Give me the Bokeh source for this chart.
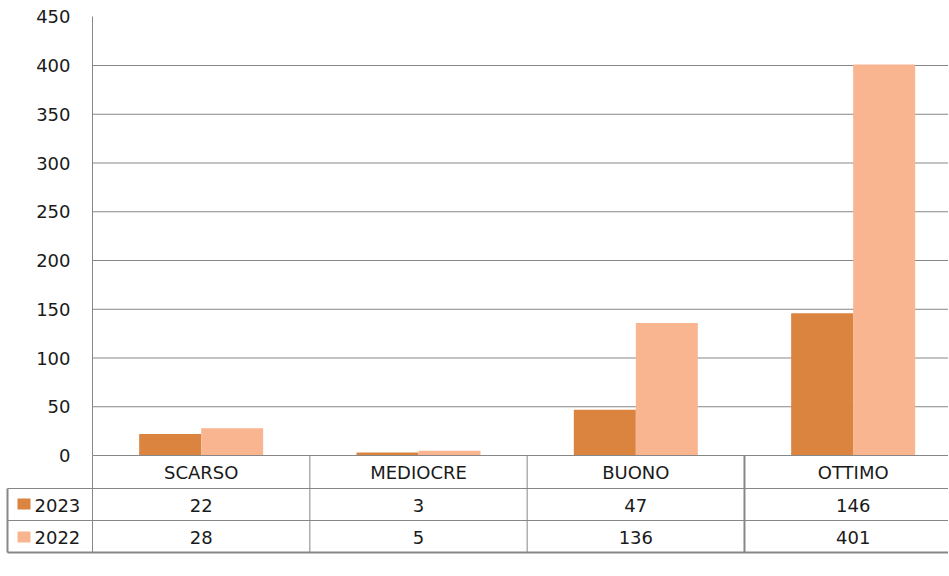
from bokeh.plotting import figure
from bokeh.models import Range1d, LinearAxis, FixedTicker
from bokeh.embed import file_html
from bokeh.resources import INLINE
from bokeh.core.properties import value

# ---- data ----
categories = ["SCARSO", "MEDIOCRE", "BUONO", "OTTIMO"]
series_names = ["2023", "2022"]
values_2023 = [22, 3, 47, 146]
values_2022 = [28, 5, 136, 401]
y_ticks = [0, 50, 100, 150, 200, 250, 300, 350, 400, 450]
grid_ticks = [50, 100, 150, 200, 250, 300, 350, 400]

# ---- style / layout ----
C2023 = "#DA843F"
C2022 = "#F9B58F"
GRAY = "#878787"
FONT = "DejaVu Sans"
FSIZE = "18px"
TXT = "#1a1a1a"

W, H = 948, 566
PX_CAT = 217.33      # pixels per category
AX_PX = 92           # x pixel of value axis inside figure
PX_UNIT = 0.975      # pixels per value unit
ZERO_PX = 455        # y pixel of zero from figure top

x_start = -AX_PX / PX_CAT
x_end = (W - AX_PX) / PX_CAT
y_end = ZERO_PX / PX_UNIT
y_start = -(H - ZERO_PX) / PX_UNIT

def dy(px):  # pixel offset below zero -> data
    return -px / PX_UNIT

def dx(px):  # figure pixel -> data x
    return (px - AX_PX) / PX_CAT

p = figure(width=W, height=H, output_backend="svg", toolbar_location=None,
           x_range=Range1d(x_start, x_end), y_range=Range1d(y_start, y_end),
           x_axis_type=None, y_axis_type=None,
           min_border_left=0, min_border_right=0, min_border_top=0, min_border_bottom=0)
p.outline_line_color = None
p.xgrid.visible = False
p.ygrid.visible = False
p.background_fill_color = "white"

# value axis
yaxis = LinearAxis(fixed_location=0, bounds=(0, 450), ticker=FixedTicker(ticks=y_ticks))
yaxis.axis_line_color = GRAY
yaxis.major_tick_line_color = None
yaxis.minor_tick_line_color = None
yaxis.major_tick_out = 0
yaxis.major_tick_in = 0
yaxis.major_label_standoff = 22
yaxis.major_label_text_font = FONT
yaxis.major_label_text_font_size = FSIZE
yaxis.major_label_text_color = TXT
p.add_layout(yaxis, "left")

# gridlines
p.segment(x0=[0] * len(grid_ticks), x1=[x_end] * len(grid_ticks),
          y0=grid_ticks, y1=grid_ticks, line_color=GRAY, line_width=1)

# bars
bw = 62 / PX_CAT
centers = [i + 0.5 for i in range(len(categories))]
p.vbar(x=[c - bw / 2 for c in centers], width=bw, top=values_2023, bottom=0,
       fill_color=C2023, line_color=None)
p.vbar(x=[c + bw / 2 for c in centers], width=bw, top=values_2022, bottom=0,
       fill_color=C2022, line_color=None)

# data table
r0, r1, r2, r3 = 0, dy(33), dy(65), dy(97)
xL = dx(7)
p.segment(x0=[0, xL, xL], x1=[x_end] * 3, y0=[r0, r1, r2], y1=[r0, r1, r2],
          line_color=GRAY, line_width=1)
p.segment(x0=[xL], x1=[x_end], y0=[r3], y1=[r3], line_color=GRAY, line_width=2)
p.segment(x0=[xL], x1=[xL], y0=[r1], y1=[r3], line_color=GRAY, line_width=2)
p.segment(x0=[0, 1, 2], x1=[0, 1, 2], y0=[r0] * 3, y1=[r3] * 3, line_color=GRAY, line_width=1)
p.segment(x0=[3], x1=[3], y0=[r0], y1=[r3], line_color=GRAY, line_width=2)

p.text(x=centers, y=[dy(16.5)] * 4, text=categories, text_align="center",
       text_baseline="middle", text_font=value(FONT), text_font_size=FSIZE, text_color=TXT)
p.text(x=centers, y=[dy(50)] * 4, text=[str(v) for v in values_2023], text_align="center",
       text_baseline="middle", text_font=value(FONT), text_font_size=FSIZE, text_color=TXT)
p.text(x=centers, y=[dy(82)] * 4, text=[str(v) for v in values_2022], text_align="center",
       text_baseline="middle", text_font=value(FONT), text_font_size=FSIZE, text_color=TXT)

# legend keys in table
p.quad(left=[dx(17), dx(17)], right=[dx(30), dx(30)],
       top=[dy(43), dy(76)], bottom=[dy(54), dy(87)],
       fill_color=[C2023, C2022], line_color=None)
p.text(x=[dx(34), dx(34)], y=[dy(50), dy(82)], text=series_names, text_align="left",
       text_baseline="middle", text_font=value(FONT), text_font_size=FSIZE, text_color=TXT)

open("out.html", "w").write(file_html(p, INLINE))
